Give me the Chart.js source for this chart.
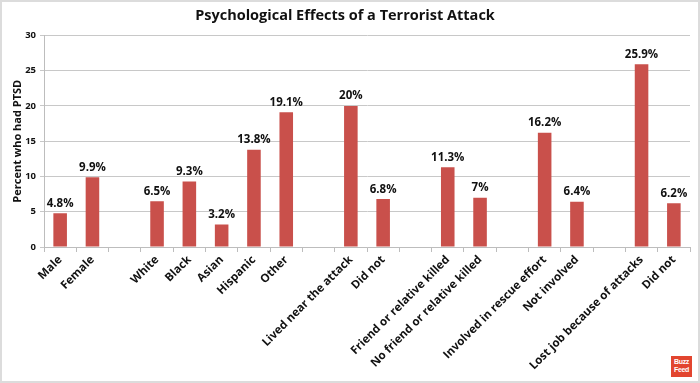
<!DOCTYPE html>
<html>
<head>
<meta charset="utf-8">
<script src="https://cdn.jsdelivr.net/npm/chart.js@4"></script>
<style>
html,body{margin:0;padding:0;background:#fff;}
#wrap{position:relative;width:700px;height:383px;}
#frame{position:absolute;left:0;top:0;width:700px;height:383px;box-sizing:border-box;border:2px solid #dcdcdc;pointer-events:none;}
#logo{position:absolute;left:671px;top:356px;width:21px;height:21px;background:#e2452f;color:#fff;font:bold 7px "Liberation Sans",Arial,sans-serif;line-height:8px;text-align:center;padding-top:2px;box-sizing:border-box;letter-spacing:-0.3px;}
</style>
</head>
<body>
<div id="wrap">
<canvas id="c" width="700" height="383"></canvas>
<div id="frame"></div>
<div id="logo">Buzz<br>Feed</div>
</div>
<script>
const categories = ["Male","Female","","White","Black","Asian","Hispanic","Other","","Lived near the attack","Did not","","Friend or relative killed","No friend or relative killed","","Involved in rescue effort","Not involved","","Lost job because of attacks","Did not"];
const ptsdPercent = [4.8,9.9,null,6.5,9.3,3.2,13.8,19.1,null,20,6.8,null,11.3,7,null,16.2,6.4,null,25.9,6.2];
const valueLabels = ["4.8%","9.9%","","6.5%","9.3%","3.2%","13.8%","19.1%","","20%","6.8%","","11.3%","7%","","16.2%","6.4%","","25.9%","6.2%"];
const yTicks = [0,5,10,15,20,25,30];

const FONT = "'Open Sans', sans-serif";

const labelPlugin = {
  id:'valueLabels',
  afterDatasetsDraw(chart){
    const ctx = chart.ctx;
    const meta = chart.getDatasetMeta(0);
    ctx.save();
    ctx.font = "bold 11.5px " + FONT;
    ctx.fillStyle = "#111";
    ctx.textAlign = "center";
    ctx.textBaseline = "bottom";
    meta.data.forEach((bar,i)=>{
      if (ptsdPercent[i] == null) return;
      ctx.fillText(valueLabels[i], bar.x, bar.y - 4);
    });
    ctx.restore();
  }
};

new Chart(document.getElementById('c'), {
  type:'bar',
  data:{
    labels:categories,
    datasets:[{data:ptsdPercent, backgroundColor:'#c9504b', barPercentage:0.42, categoryPercentage:1.0}]
  },
  options:{
    responsive:false,
    animation:false,
    layout:{padding:{left:0,right:10,top:0,bottom:0}},
    plugins:{
      legend:{display:false},
      tooltip:{enabled:false},
      title:{display:true,text:"Psychological Effects of a Terrorist Attack",color:"#111",
        font:{family:FONT,size:14.5,weight:'bold'},padding:{top:7,bottom:11}}
    },
    scales:{
      x:{
        grid:{drawOnChartArea:false,offset:true,tickLength:5,color:'#bdbdbd'},
        border:{color:'#bdbdbd'},
        ticks:{minRotation:45,maxRotation:45,autoSkip:false,color:'#111',padding:1,
          font:{family:FONT,size:11.5,weight:'bold'}},
        afterFit(s){ s.height = 136; }
      },
      y:{
        min:0,max:30,
        afterBuildTicks(s){ s.ticks = yTicks.map(v=>({value:v})); },
        grid:{color:'#c8c8c8',tickLength:4},
        border:{color:'#bdbdbd'},
        ticks:{color:'#111',font:{family:FONT,size:9.5,weight:'bold'},padding:4},
        title:{display:true,text:"Percent who had PTSD",color:'#111',
          font:{family:FONT,size:11,weight:'bold'},padding:{top:11,bottom:2}},
        afterFit(s){ s.width = 44; }
      }
    }
  },
  plugins:[labelPlugin]
});
</script>
</body>
</html>
